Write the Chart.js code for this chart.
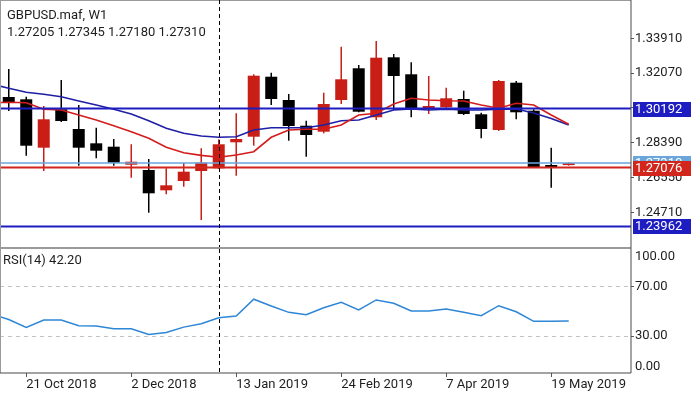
<!DOCTYPE html>
<html>
<head>
<meta charset="utf-8">
<script src="https://cdn.jsdelivr.net/npm/chart.js@4.4.0/dist/chart.umd.min.js"></script>
<style>
  html, body { margin:0; padding:0; background:#fff; }
  #wrap { position:relative; width:700px; height:393px; overflow:hidden; font-family:Roboto, sans-serif; }
  #priceBox { position:absolute; left:0; top:0; width:700px; height:248px; }
  #rsiBox { position:absolute; left:0; top:248px; width:700px; height:145px; }
  .txt { position:absolute; font-size:13px; line-height:16.6px; color:#1e1e1e; white-space:pre; }
</style>
</head>
<body>
<div id="wrap">
  <div id="priceBox"><canvas id="priceUI"></canvas></div>
  <div id="rsiBox"><canvas id="rsiUI"></canvas></div>
  <div class="txt" id="head" style="left:7px;top:7px"></div>
  <div class="txt" id="rsiHead" style="left:3px;top:252px"></div>
</div>
<script>
// Nedeljne svece, indeks 0 = 14 Oct 2018
var symbol = 'GBPUSD.maf, W1';
var opens  = [1.30806,1.30684,1.28125,1.30155,1.29114,1.28357,1.28178,1.27226,1.26945,1.25872,1.26364,1.26893,1.27035,1.28410,1.28706,1.31879,1.30647,1.29288,1.28971,1.30647,1.32324,1.29732,1.32905,1.32006,1.30171,1.30261,1.30700,1.29891,1.29061,1.31562,1.30081,1.27210,1.27205];
var highs  = [1.32287,1.30822,1.30330,1.31705,1.30383,1.29182,1.28585,1.28305,1.27527,1.27036,1.27332,1.28093,1.28569,1.29944,1.32006,1.32091,1.30964,1.29553,1.31033,1.33466,1.32498,1.33767,1.33080,1.32641,1.31916,1.31298,1.31139,1.29976,1.31705,1.31652,1.30155,1.28125,1.27345];
var lows   = [1.30066,1.27702,1.26893,1.29480,1.27173,1.27564,1.27173,1.26538,1.24688,1.25660,1.26062,1.24302,1.27000,1.26644,1.28230,1.30383,1.28495,1.27649,1.28886,1.30436,1.29997,1.29590,1.30118,1.29732,1.29907,1.30240,1.29854,1.28622,1.29008,1.29627,1.27070,1.26009,1.27180];
var closes = [1.30542,1.28230,1.29627,1.29537,1.28125,1.27966,1.27332,1.27384,1.25713,1.26136,1.26856,1.27332,1.28305,1.28585,1.31932,1.30700,1.29272,1.28796,1.30436,1.31742,1.30028,1.32884,1.31916,1.30208,1.30330,1.30737,1.29907,1.29114,1.31652,1.29997,1.27088,1.27067,1.27310];

// Linije pocinju jednu nedelju pre prve svece (indeks -1)
var lineStart = -1;
var maFast = [1.30500,1.30526,1.30504,1.30155,1.30118,1.29854,1.29590,1.29288,1.28971,1.28622,1.28146,1.27860,1.27720,1.27617,1.27739,1.27913,1.28675,1.29061,1.29098,1.29098,1.29325,1.29854,1.29944,1.30436,1.30737,1.30647,1.30610,1.30594,1.30383,1.30208,1.30473,1.30383,1.29854,1.29362];
var maSlow = [1.31494,1.31266,1.31054,1.30949,1.30822,1.30594,1.30383,1.30155,1.29907,1.29553,1.29151,1.28886,1.28743,1.28675,1.28706,1.29061,1.29182,1.29182,1.29182,1.29325,1.29553,1.29590,1.29854,1.30118,1.30171,1.30118,1.30155,1.30118,1.30118,1.30155,1.30171,1.29960,1.29669,1.29325];
var rsiValues = [48.0,43.5,37.1,43.1,43.1,38.4,38.2,36.0,36.0,31.4,33.0,37.3,40.0,44.9,46.3,60.0,54.5,49.3,47.4,53.1,57.5,51.2,59.4,56.7,50.4,50.4,52.0,49.3,46.6,54.7,49.8,42.0,42.0,42.2];

var supportLevels = [1.30192, 1.23962];
var bidLevel = 1.27310;
var askLevel = 1.27076;
var priceTicks = [1.24710, 1.26550, 1.28390, 1.30230, 1.32070, 1.33910];
var rsiTicks = [30, 70];
var rsiEdgeTicks = [100, 0];
var tickWeeks = [1, 7, 13, 19, 25, 31];
var tickLabels = ['21 Oct 2018', '2 Dec 2018', '13 Jan 2019', '24 Feb 2019', '7 Apr 2019', '19 May 2019'];
var sepWeek = 12;
var weekMin = -0.5, weekMax = 35.56;
var priceMin = 1.22874, priceMax = 1.35882;

var bullColor = '#c81e16', bearColor = '#000000';
var levelBlue = '#1d1dc2', bidBlue = '#6aa6dc', askRed = '#d2261c';

Chart.defaults.font.family = 'Roboto';
Chart.defaults.font.size = 13;
Chart.defaults.color = '#1e1e1e';
Chart.defaults.animation = false;

document.getElementById('head').textContent = symbol + '\n' +
	[opens, highs, lows, closes].map(function(a) { return a[a.length - 1].toFixed(5); }).join(' ');
document.getElementById('rsiHead').textContent = 'RSI(14) ' + rsiValues[rsiValues.length - 1].toFixed(2);

var series = function(values) {
	return values.map(function(v, i) { return {x: i + lineStart, y: v}; });
}

var flatLine = function(v) {
	return [{x: weekMin, y: v}, {x: weekMax, y: v}];
}

var candleColors = closes.map(function(c, i) { return c >= opens[i] ? bullColor : bearColor; });
var bodies = opens.map(function(o, i) { return {x: i, y: [o, closes[i]]}; });
var wicks = lows.map(function(l, i) { return {x: i, y: [l, highs[i]]}; });

var weekAxis = function(show) {
	var axis = {
		type: 'linear', min: weekMin, max: weekMax, display: show, offset: false,
		afterBuildTicks: function(s) { s.ticks = tickWeeks.map(function(v) { return {value: v}; }); },
		ticks: { callback: function(v, i) { return tickLabels[i]; }, align: 'start', maxRotation: 0, autoSkip: false, padding: 0 },
		grid: { drawOnChartArea: false, tickLength: 4, color: '#555', offset: false },
		border: { display: false }
	};
	if (show) axis.afterFit = function(s) { s.height = 20; s.paddingLeft = 0; s.paddingRight = 0; };
	return axis;
}

var sideAxis = function(lo, hi, values, digits, grid) {
	return {
		position: 'right', min: lo, max: hi,
		afterBuildTicks: function(s) { s.ticks = values.map(function(v) { return {value: v}; }); },
		afterFit: function(s) { s.width = 69; s.paddingTop = 0; s.paddingBottom = 0; },
		ticks: { callback: function(v) { return v.toFixed(digits); }, padding: 1 },
		grid: grid,
		border: { display: false, dash: [4, 4] }
	};
}

// Okvir, isprekidana linija i oznake na desnoj osi
var drawTag = function(ctx, area, y, text, bg) {
	ctx.fillStyle = bg;
	ctx.fillRect(area.right + 2, Math.round(y) - 7, 58, 15);
	ctx.fillStyle = '#fff';
	ctx.textAlign = 'left';
	ctx.textBaseline = 'middle';
	ctx.font = '13px Roboto';
	ctx.fillText(text, area.right + 4, Math.round(y) + 0.5);
}

var framePlugin = {
	id: 'frame',
	afterDraw: function(chart) {
		var ctx = chart.ctx, a = chart.chartArea, x = chart.scales.x, y = chart.scales.y;
		var isPrice = chart.canvas.id === 'priceUI';
		ctx.save();
		ctx.fillStyle = '#9a9a9a';
		ctx.fillRect(0, 0, 1, isPrice ? chart.height : a.bottom);
		if (isPrice) { ctx.fillRect(0, 0, a.right, 1); ctx.fillRect(0, 247, a.right, 1); }
		else ctx.fillRect(0, 0, a.right, 1);
		ctx.fillStyle = '#4a4a4a';
		ctx.fillRect(a.right - 0.5, 0, 1, isPrice ? chart.height : a.bottom);
		if (!isPrice) ctx.fillRect(0, a.bottom - 0.5, a.right, 1);

		var sx = Math.round(x.getPixelForValue(sepWeek)) + 0.5;
		ctx.strokeStyle = '#000';
		ctx.lineWidth = 1;
		ctx.setLineDash([4, 3]);
		ctx.beginPath();
		ctx.moveTo(sx, isPrice ? 0 : 1);
		ctx.lineTo(sx, a.bottom);
		ctx.stroke();
		ctx.setLineDash([]);

		if (isPrice) {
			drawTag(ctx, a, y.getPixelForValue(supportLevels[0]), supportLevels[0].toFixed(5), levelBlue);
			drawTag(ctx, a, y.getPixelForValue(supportLevels[1]), supportLevels[1].toFixed(5), levelBlue);
			drawTag(ctx, a, y.getPixelForValue(bidLevel), bidLevel.toFixed(5), bidBlue);
			drawTag(ctx, a, y.getPixelForValue(askLevel), askLevel.toFixed(5), askRed);
		} else {
			ctx.fillStyle = '#1e1e1e';
			ctx.font = '13px Roboto';
			ctx.textBaseline = 'middle';
			ctx.fillText(rsiEdgeTicks[0].toFixed(2), a.right + 4, y.getPixelForValue(rsiEdgeTicks[0]) + 7);
			ctx.fillText(rsiEdgeTicks[1].toFixed(2), a.right + 4, y.getPixelForValue(rsiEdgeTicks[1]) - 6);
		}
		ctx.restore();
	}
};

var priceChart = new Chart(document.getElementById('priceUI'), {
	type: 'bar',
	data: {
		datasets: [
			{type: 'line', data: flatLine(askLevel), borderColor: askRed, borderWidth: 2, pointRadius: 0, order: 0},
			{type: 'line', data: flatLine(bidLevel), borderColor: bidBlue, borderWidth: 1.5, pointRadius: 0, order: 1},
			{type: 'line', data: flatLine(supportLevels[0]), borderColor: levelBlue, borderWidth: 2, pointRadius: 0, order: 1},
			{type: 'line', data: flatLine(supportLevels[1]), borderColor: levelBlue, borderWidth: 2, pointRadius: 0, order: 1},
			{type: 'line', data: series(maFast), borderColor: '#d41c1c', borderWidth: 1.6, pointRadius: 0, order: 2},
			{type: 'line', data: series(maSlow), borderColor: '#1f1fa6', borderWidth: 1.6, pointRadius: 0, order: 2},
			{data: bodies, backgroundColor: candleColors, grouped: false, barThickness: 12, inflateAmount: 0, order: 5},
			{data: wicks, backgroundColor: candleColors, grouped: false, barThickness: 1.5, inflateAmount: 0, order: 6}
		]
	},
	options: {
		responsive: true, maintainAspectRatio: false,
		layout: { padding: {top: 1, bottom: 1, left: 0, right: 0} },
		plugins: { legend: {display: false}, tooltip: {enabled: false} },
		scales: {
			x: weekAxis(false),
			y: sideAxis(priceMin, priceMax, priceTicks, 5, { drawOnChartArea: false, tickLength: 3, color: '#555' })
		}
	},
	plugins: [framePlugin]
});

var rsiChart = new Chart(document.getElementById('rsiUI'), {
	type: 'line',
	data: {
		datasets: [
			{data: series(rsiValues), borderColor: '#2d86d6', borderWidth: 1.5, pointRadius: 0}
		]
	},
	options: {
		responsive: true, maintainAspectRatio: false,
		layout: { padding: {top: 2, bottom: 0, left: 0, right: 0} },
		plugins: { legend: {display: false}, tooltip: {enabled: false} },
		scales: {
			x: weekAxis(true),
			y: sideAxis(0, 100, rsiTicks, 2, { tickLength: 3, color: '#c2c2c2', tickColor: '#555' })
		}
	},
	plugins: [framePlugin]
});
</script>
</body>
</html>
